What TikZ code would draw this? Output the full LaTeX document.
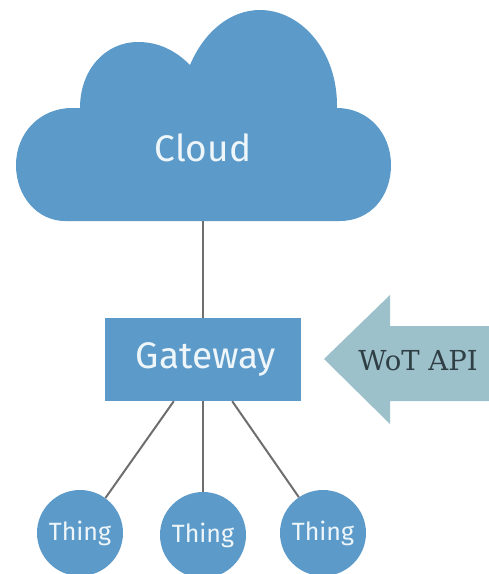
\documentclass[tikz,border=0pt]{standalone}
\usepackage{fontspec}
\setmainfont{Fira Sans}
\newfontfamily\slabfont{DejaVu Serif}
\definecolor{wotblue}{HTML}{5B9AC9}
\definecolor{wotarrow}{HTML}{9DC1CB}
\definecolor{wotline}{HTML}{6E6E6E}
\definecolor{wottext}{HTML}{EEF6FA}
\definecolor{apitext}{HTML}{2F3F45}
\tikzset{
  link/.style={draw=wotline, line width=2pt},
  label/.style={text=wottext, inner sep=0pt},
  gatewaybox/.style={rectangle, fill=wotblue, inner sep=0pt, minimum width=196pt, minimum height=83pt, text=wottext, font=\fontsize{37}{40}\selectfont},
  thing/.style={circle, fill=wotblue, inner sep=0pt, minimum size=86pt, text=wottext, font=\fontsize{25}{28}\selectfont}
}
\begin{document}
\begin{tikzpicture}[x=1pt, y=-1pt]
\useasboundingbox (0,0) rectangle (489,574);
\def\thingnode{node [thing] }

% cloud
\fill [wotblue] (65,221) -- (340,221)
  .. controls (370,221) and (391,197) .. (391,165)
  .. controls (391,133) and (368,108) .. (337,108)
  .. controls (338,50) and (300,10) .. (260,10)
  .. controls (230,10) and (204,32) .. (190,65)
  .. controls (175,50) and (158,42) .. (138,42)
  .. controls (105,42) and (80,70) .. (80,108)
  -- (72,108)
  .. controls (40,108) and (16,133) .. (16,165)
  .. controls (16,197) and (38,221) .. (65,221) -- cycle;
\node [label, font=\fontsize{37}{40}\selectfont] (cloud) at (203,148) {Cloud};
\coordinate (cloudbase) at (203,221);

% arrow
\fill [wotarrow] (324,359) -- (390,295) -- (390,326) -- (489,326) -- (489,401) -- (390,401) -- (390,424) -- cycle;
\node [inner sep=0pt, text=apitext, font=\slabfont\fontsize{27.5}{30}\selectfont] (api) at (418,361) {WoT API};

\node [gatewaybox] (gateway) at (203,359.5) {\hspace*{6pt}Gateway};
\draw (80,533) \thingnode (thing1) {Thing};
\draw (203,535) \thingnode (thing2) {Thing};
\draw (323,533) \thingnode (thing3) {Thing};

\draw [link] (cloudbase) -- (gateway);
\draw [link] (gateway.235) -- (thing1.54);
\draw [link] (gateway.south) -- (thing2);
\draw [link] (gateway.305) -- (thing3.124);
\end{tikzpicture}
\end{document}
